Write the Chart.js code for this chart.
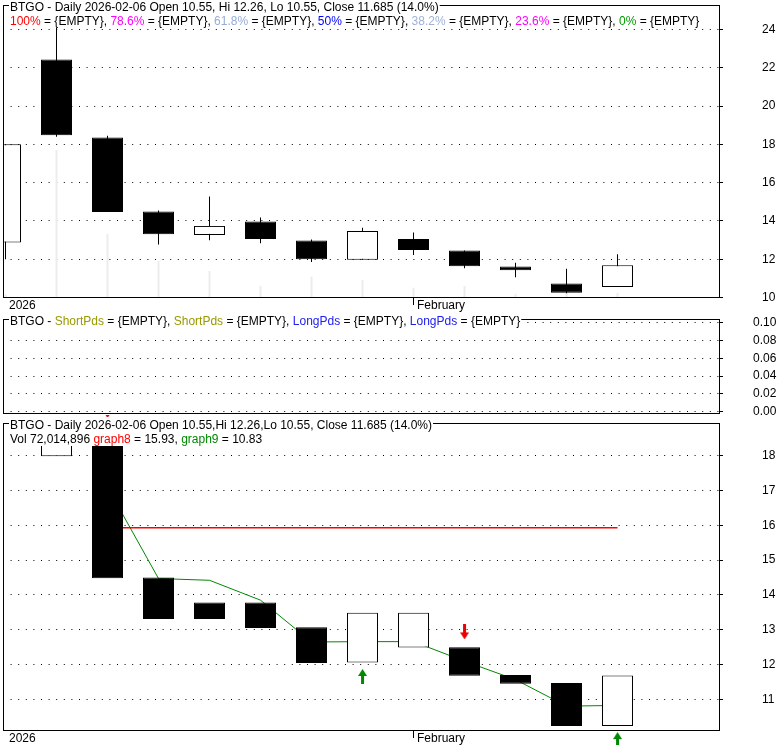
<!DOCTYPE html>
<html>
<head>
<meta charset="utf-8">
<title>BTGO Daily</title>
<script src="https://cdn.jsdelivr.net/npm/chart.js@4.4.1/dist/chart.umd.min.js"></script>
<style>
    body { margin: 0; background: #fff; }
    .wrap { position: relative; width: 780px; height: 745px; overflow: hidden; background: #fff; }
    .wrap canvas { position: absolute; left: 0; }
</style>
</head>
<body>
<div class="wrap">
    <canvas id="priceChart" width="780" height="315" style="top:0px"></canvas>
    <canvas id="pdsChart" width="780" height="100" style="top:315px"></canvas>
    <canvas id="sigChart" width="780" height="330" style="top:415px"></canvas>
</div>
<script>
// trading days shown (last one is 2026-02-06)
const dates = ['2026-01-21', '2026-01-22', '2026-01-23', '2026-01-26', '2026-01-27', '2026-01-28', '2026-01-29',
    '2026-01-30', '2026-02-02', '2026-02-03', '2026-02-04', '2026-02-05', '2026-02-06'];

// daily candles
const openP  = [12.87, 22.43, 18.36, 14.49, 13.27, 13.97, 12.98, 11.97, 13.06, 12.45, 11.62, 10.73, 10.55];
const highP  = [18.00, 24.50, 18.45, 14.54, 15.27, 14.18, 13.03, 13.64, 13.39, 12.45, 11.81, 11.50, 12.26];
const lowP   = [12.00, 18.40, 14.46, 12.77, 12.99, 12.84, 11.86, 11.97, 12.22, 11.53, 11.06, 10.22, 10.55];
const closeP = [18.00, 18.47, 14.46, 13.31, 13.74, 13.05, 12.00, 13.48, 12.48, 11.63, 11.43, 10.25, 11.685];
// volume, millions of shares (light bars behind the candles)
const volumeM = [53, 2131, 922, 533, 389, 173, 307, 259, 148, 173, 62, 72, 72];

// lower panel: boxes, two indicator lines and signal arrows
const boxFrom   = [null, 17.98, 18.47, 14.50, 13.31, 13.78, 13.07, 12.06, 13.49, 12.50, 11.70, 11.47, 10.24];
const boxTo     = [null, 18.47, 14.48, 13.31, 13.78, 13.05, 12.05, 13.49, 12.49, 11.68, 11.45, 10.24, 11.69];
const boxHollow = [false, true, false, false, false, false, false, true, true, false, false, false, true];
const graph8 = [null, null, 15.93, 15.93, 15.93, 15.93, 15.93, 15.93, 15.93, 15.93, 15.93, 15.93, 15.93];
const graph9 = [null, null, 17.09, 14.47, 14.42, 13.85, 12.65, 12.66, 12.66, 12.10, 11.57, 10.81, 10.83];
const sellArrow = [null, null, 19.29, null, null, null, null, null, null, 12.94, null, null, null];
const buyArrow  = [null, null, null, null, null, null, null, 11.66, null, null, null, null, 9.85];

// axis ticks
const xTickIndex = [0, 8];
const xTickLabels = ['2026', 'February'];
const priceTicks = [10, 12, 14, 16, 18, 20, 22, 24];
const pdsTicks = [0, 0.02, 0.04, 0.06, 0.08, 0.10];
const sigTicks = [11, 12, 13, 14, 15, 16, 17, 18];

Chart.defaults.font.family = "'Liberation Sans', Arial, sans-serif";
Chart.defaults.font.size = 12;
Chart.defaults.color = '#000';

const FONT = "12px 'Liberation Sans', Arial, sans-serif";

// frame around each panel + the text header sitting on its top edge
const panelFrame = {
    id: 'panelFrame',
    afterDraw(chart, args, opts) {
        const ctx = chart.ctx;
        const a = chart.chartArea;
        const top = a.top - opts.headroom;
        ctx.save();
        ctx.strokeStyle = '#000';
        ctx.lineWidth = 1;
        ctx.strokeRect(a.left + 0.5, top + 0.5, a.right - a.left, a.bottom - top - 1);
        ctx.font = FONT;
        ctx.textBaseline = 'alphabetic';
        opts.lines.forEach((runs, k) => {
            let x = 10;
            const y = top + 5.7 + k * 14;
            if (k === 0) {
                const w = runs.reduce((s, r) => s + ctx.measureText(r[0]).width, 0);
                ctx.fillStyle = '#fff';
                ctx.fillRect(x - 1, top - 6, w + 2, 14);
            }
            runs.forEach(([t, c]) => {
                ctx.fillStyle = c;
                ctx.fillText(t, x, y);
                x += ctx.measureText(t).width;
            });
        });
        ctx.restore();
    }
};

// arrow glyphs for the signal points
function arrowGlyph(color, up) {
    const c = document.createElement('canvas');
    c.width = 9;
    c.height = 15;
    const g = c.getContext('2d');
    g.fillStyle = color;
    g.beginPath();
    if (up) {
        g.moveTo(4.5, 0); g.lineTo(9, 7); g.lineTo(0, 7);
        g.closePath(); g.fill();
        g.fillRect(3, 7, 3, 8);
    } else {
        g.fillRect(3, 0, 3, 8);
        g.moveTo(0, 8); g.lineTo(9, 8); g.lineTo(4.5, 15);
        g.closePath(); g.fill();
    }
    return c;
}

const xMin = -0.049, xMax = 13.99;

function xAxis(show, h) {
    return {
        type: 'linear',
        display: show,
        min: xMin,
        max: xMax,
        offset: false,
        afterFit: (s) => { s.height = h; s.paddingLeft = 0; s.paddingRight = 0; },
        afterBuildTicks: (s) => { s.ticks = xTickIndex.map(v => ({ value: v })); },
        grid: {
            drawOnChartArea: false,
            offset: false,
            tickLength: 7,
            tickColor: (c) => c.index === 0 ? 'rgba(0,0,0,0)' : '#000'
        },
        border: { display: false },
        ticks: {
            autoSkip: false,
            maxRotation: 0,
            align: 'start',
            labelOffset: 3.5,
            padding: -7,
            callback: (v) => xTickLabels[xTickIndex.indexOf(v)]
        }
    };
}

function yAxis(min, max, tickVals, pad, fmt) {
    return {
        position: 'right',
        min: min,
        max: max,
        // fixed axis width, and no extra room asked for the end labels
        afterFit: (s) => { s.width = 61; s.paddingTop = 0; s.paddingBottom = 0; },
        afterBuildTicks: (s) => { s.ticks = tickVals.map(v => ({ value: v })); },
        grid: { color: '#000', lineWidth: 1, tickLength: 4, tickColor: '#000' },
        border: { display: false, dash: [1, 6.6] },
        ticks: { autoSkip: false, padding: pad, callback: fmt }
    };
}

const pts = (arr) => dates.map((d, i) => ({ x: i, y: arr[i] })).filter(p => p.y !== null);

// ---- price panel ----
new Chart(document.getElementById('priceChart'), {
    type: 'bar',
    data: {
        datasets: [{
            label: 'body',
            data: dates.map((d, i) => ({ x: i, y: [openP[i], closeP[i]] })),
            barThickness: 31,
            grouped: false,
            backgroundColor: (c) => closeP[c.dataIndex] >= openP[c.dataIndex] ? '#fff' : '#000',
            borderColor: '#000',
            borderWidth: 1,
            borderSkipped: false,
            inflateAmount: 0,
            clip: 0,
            order: 0
        }, {
            label: 'wick',
            data: dates.map((d, i) => ({ x: i, y: [lowP[i], highP[i]] })),
            barThickness: 1,
            grouped: false,
            backgroundColor: '#000',
            borderWidth: 0,
            inflateAmount: 0,
            clip: 0,
            order: 1
        }, {
            label: 'volume',
            data: pts(volumeM),
            yAxisID: 'yv',
            barThickness: 2,
            grouped: false,
            backgroundColor: '#ececec',
            borderWidth: 0,
            inflateAmount: 0,
            clip: 0,
            order: 2
        }]
    },
    options: {
        responsive: false,
        devicePixelRatio: 1,
        animation: false,
        layout: { autoPadding: false, padding: { left: 3, top: 28, right: 0, bottom: 0 } },
        plugins: {
            legend: { display: false },
            tooltip: { enabled: false },
            panelFrame: {
                headroom: 23,
                lines: [
                    [['BTGO - Daily 2026-02-06 Open 10.55, Hi 12.26, Lo 10.55, Close 11.685 (14.0%)', '#000']],
                    [['100%', '#ff0000'], [' = {EMPTY}, ', '#000'], ['78.6%', '#ff00ff'], [' = {EMPTY}, ', '#000'],
                     ['61.8%', '#98acd8'], [' = {EMPTY}, ', '#000'], ['50%', '#0000ff'], [' = {EMPTY}, ', '#000'],
                     ['38.2%', '#9fb2d6'], [' = {EMPTY}, ', '#000'], ['23.6%', '#ff00ff'], [' = {EMPTY}, ', '#000'],
                     ['0%', '#009900'], [' = {EMPTY}', '#000']]
                ]
            }
        },
        scales: {
            x: xAxis(true, 17),
            y: yAxis(9.9739, 24.078, priceTicks, 39, (v) => v),
            yv: { display: false, min: 0, max: 3888 }
        }
    },
    plugins: [panelFrame]
});

// ---- empty ShortPds / LongPds panel ----
new Chart(document.getElementById('pdsChart'), {
    type: 'bar',
    data: { datasets: [] },
    options: {
        responsive: false,
        devicePixelRatio: 1,
        animation: false,
        layout: { autoPadding: false, padding: { left: 3, top: 4, right: 0, bottom: 1 } },
        plugins: {
            legend: { display: false },
            tooltip: { enabled: false },
            panelFrame: {
                headroom: 0,
                lines: [
                    [['BTGO - ', '#000'], ['ShortPds', '#999900'], [' = {EMPTY}, ', '#000'], ['ShortPds', '#999900'],
                     [' = {EMPTY}, ', '#000'], ['LongPds', '#2020f0'], [' = {EMPTY}, ', '#000'], ['LongPds', '#2020f0'],
                     [' = {EMPTY}', '#000']]
                ]
            }
        },
        scales: {
            x: xAxis(false, 0),
            y: yAxis(-0.0026, 0.1044, pdsTicks, 30, (v) => v.toFixed(2))
        }
    },
    plugins: [panelFrame]
});

// ---- lower panel with graph8 / graph9 ----
new Chart(document.getElementById('sigChart'), {
    type: 'bar',
    data: {
        datasets: [{
            label: 'box',
            data: dates.map((d, i) => ({ x: i, y: boxFrom[i] === null ? null : [boxFrom[i], boxTo[i]] })).filter(p => p.y !== null),
            barThickness: 31,
            grouped: false,
            backgroundColor: (c) => boxHollow[c.raw.x] ? '#fff' : '#000',
            borderColor: '#000',
            borderWidth: 1,
            borderSkipped: false,
            inflateAmount: 0,
            clip: 0,
            order: 1
        }, {
            type: 'line',
            label: 'graph8',
            data: pts(graph8),
            borderColor: '#ff0000',
            borderWidth: 1.5,
            pointRadius: 0,
            tension: 0,
            clip: 0,
            order: 2
        }, {
            type: 'line',
            label: 'graph9',
            data: pts(graph9),
            borderColor: '#008800',
            borderWidth: 1,
            pointRadius: 0,
            tension: 0,
            clip: 0,
            order: 2
        }, {
            type: 'line',
            label: 'sell',
            data: pts(sellArrow),
            showLine: false,
            pointStyle: arrowGlyph('#ee0000', false),
            pointRadius: 40,
            clip: false,
            order: 0
        }, {
            type: 'line',
            label: 'buy',
            data: pts(buyArrow),
            showLine: false,
            pointStyle: arrowGlyph('#008800', true),
            pointRadius: 40,
            clip: false,
            order: 0
        }]
    },
    options: {
        responsive: false,
        devicePixelRatio: 1,
        animation: false,
        layout: { autoPadding: false, padding: { left: 3, top: 31, right: 0, bottom: 0 } },
        plugins: {
            legend: { display: false },
            tooltip: { enabled: false },
            panelFrame: {
                headroom: 23,
                lines: [
                    [['BTGO - Daily 2026-02-06 Open 10.55,Hi 12.26,Lo 10.55, Close 11.685 (14.0%)', '#000']],
                    [['Vol 72,014,896 ', '#000'], ['graph8', '#ff0000'], [' = 15.93, ', '#000'],
                     ['graph9', '#008800'], [' = 10.83', '#000']]
                ]
            }
        },
        scales: {
            x: xAxis(true, 14),
            y: yAxis(10.0963, 18.2726, sigTicks, 39, (v) => v)
        }
    },
    plugins: [panelFrame]
});
</script>
</body>
</html>
